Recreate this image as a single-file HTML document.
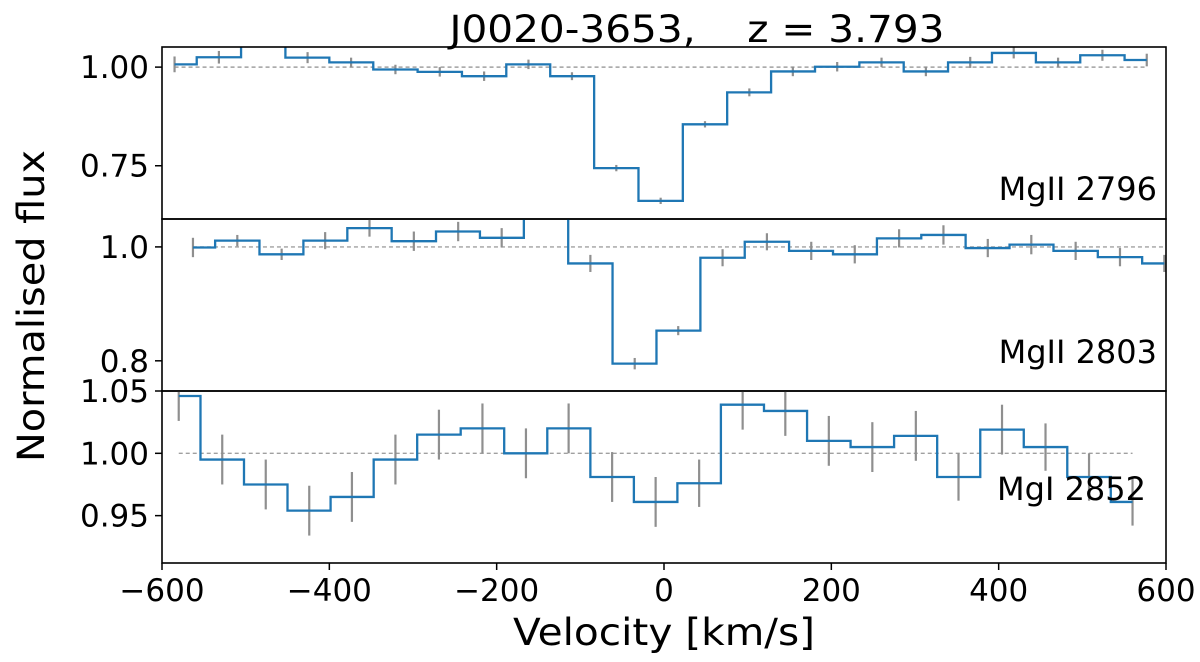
<!DOCTYPE html>
<html><head><meta charset="utf-8"><style>
html,body{margin:0;padding:0;background:#fff;}
svg{display:block;font-family:"DejaVu Sans","Liberation Sans",sans-serif;}
</style></head><body>
<svg id="chart" width="1200" height="662" viewBox="0 0 1200 662" xmlns="http://www.w3.org/2000/svg">
<text x="697" y="42" font-size="37" text-anchor="middle" textLength="495" lengthAdjust="spacingAndGlyphs" xml:space="preserve">J0020-3653,    z = 3.793</text>
<text transform="translate(44,306) rotate(-90)" font-size="37" text-anchor="middle" textLength="312" lengthAdjust="spacingAndGlyphs">Normalised flux</text>
<text x="664" y="645" font-size="37" text-anchor="middle" textLength="302" lengthAdjust="spacingAndGlyphs">Velocity [km/s]</text>
<g id="plots"></g>
</svg>
<script>
// ---- data ----
const xTicks = [-600, -400, -200, 0, 200, 400, 600];
const xTickLabels = ["\u2212600", "\u2212400", "\u2212200", "0", "200", "400", "600"];

const velTop = [-585,-532,-479,-426,-374,-321,-268,-215,-162,-110,-57,-4,49,102,154,207,260,313,366,418,471,524,577];
const fluxTop = [1.007,1.025,1.07,1.024,1.012,0.994,0.988,0.977,1.007,0.977,0.744,0.661,0.855,0.936,0.989,1.001,1.012,0.989,1.012,1.036,1.012,1.030,1.018];
const errTop = [0.02,0.016,0.016,0.014,0.012,0.012,0.012,0.012,0.012,0.01,0.008,0.008,0.008,0.01,0.012,0.012,0.012,0.012,0.014,0.014,0.012,0.014,0.016];
const ticksTop = [0.75, 1.00];
const tickLabelsTop = ["0.75", "1.00"];

const velMid = [-563,-510,-457,-405,-352,-299,-246,-194,-141,-88,-35,17,70,123,176,228,281,334,387,439,492,545,598];
const fluxMid = [0.999,1.011,0.987,1.011,1.033,1.010,1.027,1.016,1.07,0.971,0.795,0.853,0.981,1.009,0.993,0.987,1.015,1.021,0.998,1.004,0.993,0.982,0.971];
const errMid = [0.017,0.01,0.01,0.015,0.015,0.017,0.017,0.017,0.015,0.015,0.01,0.008,0.015,0.015,0.016,0.016,0.016,0.017,0.016,0.017,0.016,0.016,0.015];
const ticksMid = [0.8, 1.0];
const tickLabelsMid = ["0.8", "1.0"];

const velBot = [-580,-528,-476,-424,-373,-321,-269,-217,-165,-114,-62,-10,42,94,145,197,249,301,352,404,456,508,560];
const fluxBot = [1.046,0.995,0.975,0.954,0.965,0.995,1.015,1.020,1.000,1.020,0.981,0.961,0.976,1.039,1.034,1.010,1.005,1.014,0.981,1.019,1.005,0.981,0.961];
const errBot = [0.02,0.02,0.02,0.02,0.02,0.02,0.02,0.02,0.02,0.02,0.02,0.02,0.019,0.02,0.02,0.02,0.02,0.02,0.019,0.02,0.019,0.019,0.019];
const ticksBot = [0.95, 1.00, 1.05];
const tickLabelsBot = ["0.95", "1.00", "1.05"];

// ---- layout ----
const X0 = 162, X1 = 1166, VMIN = -600, VMAX = 600;
function xs(v){ return X0 + (v - VMIN) / (VMAX - VMIN) * (X1 - X0); }
const NS = "http://www.w3.org/2000/svg";
const root = document.getElementById('plots');
function mk(tag, attrs, parent){
  const e = document.createElementNS(NS, tag);
  for (const k in attrs) e.setAttribute(k, attrs[k]);
  parent.appendChild(e);
  return e;
}

const panels = [
  {name:"mgii-2796", label:"MgII 2796", top:47, bot:219, ymin:0.615, ymax:1.051, vel:velTop, flux:fluxTop, err:errTop, ticks:ticksTop, tl:tickLabelsTop, ly:200, lx:1157},
  {name:"mgii-2803", label:"MgII 2803", top:219, bot:391, ymin:0.747, ymax:1.049, vel:velMid, flux:fluxMid, err:errMid, ticks:ticksMid, tl:tickLabelsMid, ly:363, lx:1157},
  {name:"mgi-2852", label:"MgI 2852", top:391, bot:563, ymin:0.912, ymax:1.05, vel:velBot, flux:fluxBot, err:errBot, ticks:ticksBot, tl:tickLabelsBot, ly:500, lx:1146}
];

panels.forEach((p, pi) => {
  const ys = f => p.bot - (f - p.ymin) / (p.ymax - p.ymin) * (p.bot - p.top);
  const g = mk('g', {}, root);
  
  
  const clipId = 'clip' + pi;
  const cp = mk('clipPath', {id: clipId}, g);
  mk('rect', {x: X0, y: p.top, width: X1 - X0, height: p.bot - p.top}, cp);
  const plot = mk('g', {'clip-path': 'url(#' + clipId + ')'}, g);

  const n = p.vel.length;
  const cont = mk('line', {x1: xs(p.vel[0]), x2: xs(p.vel[n-1]), y1: ys(1), y2: ys(1), stroke:'#a0a0a0', 'stroke-width':1.4, 'stroke-dasharray':'4,3'}, plot);
  
  

  for (let i = 0; i < n; i++){
    const eb = mk('line', {x1: xs(p.vel[i]), x2: xs(p.vel[i]), y1: ys(p.flux[i] - p.err[i]), y2: ys(p.flux[i] + p.err[i]), stroke:'#8f8f8f', 'stroke-width':2.2}, plot);
    
    
  }

  let d = 'M' + xs(p.vel[0]) + ',' + ys(p.flux[0]);
  for (let i = 1; i < n; i++){
    const xm = xs((p.vel[i-1] + p.vel[i]) / 2);
    d += ' H' + xm + ' V' + ys(p.flux[i]);
  }
  d += ' H' + xs(p.vel[n-1]);
  const step = mk('path', {d: d, fill:'none', stroke:'#1f77b4', 'stroke-width':2.3}, plot);
  
  

  const fr = mk('rect', {x: X0, y: p.top, width: X1 - X0, height: p.bot - p.top, fill:'none', stroke:'#000', 'stroke-width':1.6}, g);
  
  

  p.ticks.forEach((t, ti) => {
    const y = ys(t);
    const tk = mk('line', {x1: X0 - 7, x2: X0, y1: y, y2: y, stroke:'#000', 'stroke-width':1.5}, g);
    
    
    const tx = mk('text', {x: X0 - 13, y: y + 11, 'font-size': 31, 'text-anchor': 'end'}, g);
    
    
    tx.textContent = p.tl[ti];
  });

  xTicks.forEach((v, vi) => {
    const x = xs(v);
    const tk = mk('line', {x1: x, x2: x, y1: p.bot, y2: p.bot + (pi === 2 ? 7 : 0), stroke:'#000', 'stroke-width':1.5}, g);
    
    
    if (pi === 2){
      const tx = mk('text', {x: x, y: 601, 'font-size': 31, 'text-anchor': 'middle'}, g);
      
      
      tx.textContent = xTickLabels[vi];
    }
  });

  const lb = mk('text', {x: p.lx, y: p.ly, 'font-size': 32, 'text-anchor': 'end'}, g);
  
  
  lb.textContent = p.label;
});
</script>
</body></html>
